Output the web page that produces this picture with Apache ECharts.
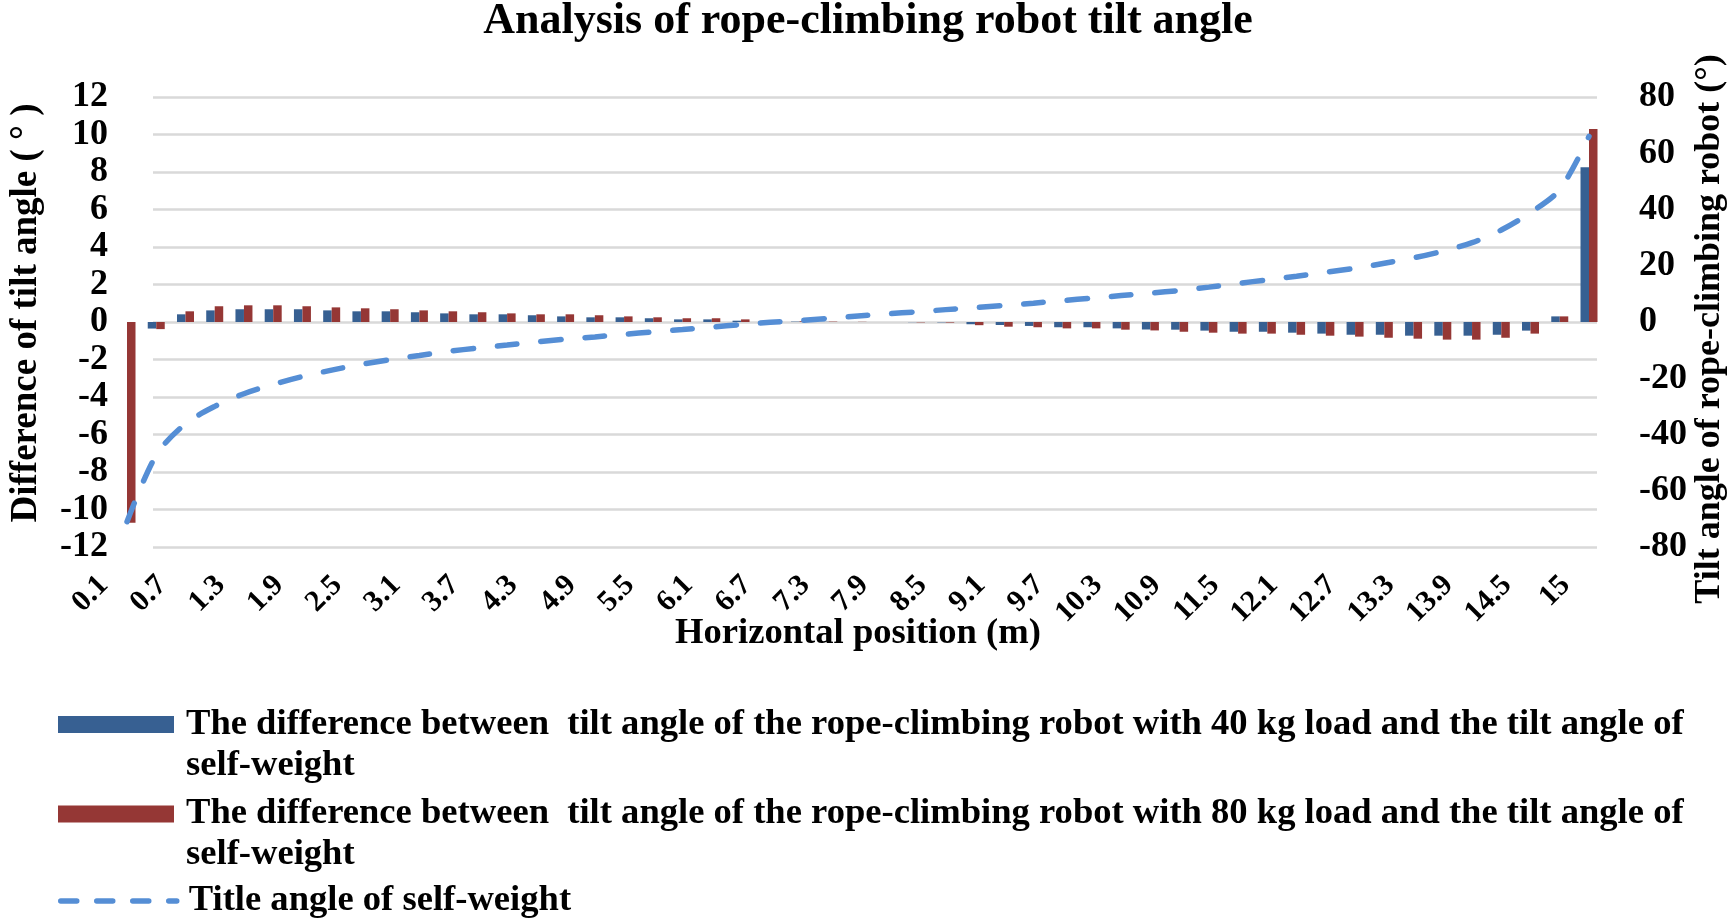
<!DOCTYPE html>
<html>
<head>
<meta charset="utf-8">
<script src="https://cdn.jsdelivr.net/npm/echarts@6/dist/echarts.min.js"></script>
<style>
html,body{margin:0;padding:0;background:#fff;}
#chart{width:1736px;height:919px;}
</style>
</head>
<body>
<div id="chart"></div>
<script>
const categories = ['0.1','0.4','0.7','1','1.3','1.6','1.9','2.2','2.5','2.8','3.1','3.4','3.7','4','4.3','4.6','4.9','5.2','5.5','5.8','6.1','6.4','6.7','7','7.3','7.6','7.9','8.2','8.5','8.8','9.1','9.4','9.7','10','10.3','10.6','10.9','11.2','11.5','11.8','12.1','12.4','12.7','13','13.3','13.6','13.9','14.2','14.5','14.8','15'];

const diff40 = [null,-0.35,0.41,0.62,0.68,0.68,0.68,0.62,0.57,0.57,0.52,0.46,0.41,0.41,0.36,0.30,0.25,0.25,0.20,0.14,0.14,0.07,0.05,0.02,0.01,0,0,-0.01,-0.02,-0.12,-0.16,-0.21,-0.28,-0.28,-0.34,-0.40,-0.41,-0.46,-0.52,-0.52,-0.57,-0.62,-0.68,-0.68,-0.73,-0.73,-0.73,-0.68,-0.46,0.30,8.26];

const diff80 = [-10.7,-0.38,0.57,0.84,0.89,0.89,0.84,0.78,0.73,0.68,0.62,0.57,0.52,0.46,0.41,0.41,0.36,0.30,0.25,0.20,0.20,0.14,0.09,0.04,0.02,0.01,0,-0.02,-0.03,-0.17,-0.25,-0.28,-0.34,-0.34,-0.41,-0.45,-0.52,-0.57,-0.62,-0.62,-0.68,-0.73,-0.78,-0.84,-0.89,-0.94,-0.94,-0.84,-0.62,0.30,10.3];

const selfWeightAngle = [-71,-47.3,-36.2,-30.0,-25.5,-22.2,-19.4,-17.1,-15.1,-13.4,-11.9,-10.4,-9.3,-8.2,-7.1,-6.1,-5.3,-4.4,-3.5,-2.7,-1.8,-0.9,-0.1,0.5,1.3,2.1,2.9,3.6,4.4,5.1,5.9,6.7,7.6,8.5,9.4,10.3,11.2,12.4,13.7,15.0,16.3,17.7,19.1,20.9,22.8,25.2,28.2,32.7,38.9,47.1,66];

const name40 = 'The difference between  tilt angle of the rope-climbing robot with 40 kg load and the tilt angle of self-weight';
const name80 = 'The difference between  tilt angle of the rope-climbing robot with 80 kg load and the tilt angle of self-weight';
const nameLine = 'Title angle of self-weight';

const FONT = "'Liberation Serif', 'Times New Roman', serif";
const txt = (size) => ({fontFamily: FONT, fontWeight: 'bold', fontSize: size, color: '#000'});

const chart = echarts.init(document.getElementById('chart'), null, {renderer: 'canvas'});

// two-line legend text, with an empty first line so the first text line sits beside the icon
const wrapName = (n) => '\n' + n.replace(' of self-weight', ' of\nself-weight');

const LINE_COLOR = '#558ED5';

const option = {
  animation: false,
  backgroundColor: '#fff',
  title: {
    text: 'Analysis of rope-climbing robot tilt angle',
    left: 'center',
    top: 0,
    padding: 0,
    textStyle: txt(44)
  },
  legend: [
    {
      data: [name40], orient: 'vertical', left: 58, top: 663, padding: 0,
      itemWidth: 116, itemHeight: 17, icon: 'rect',
      formatter: wrapName,
      textStyle: Object.assign(txt(36.6), {lineHeight: 41, padding: [0, 0, 0, 7]})
    },
    {
      data: [name80], orient: 'vertical', left: 58, top: 752.5, padding: 0,
      itemWidth: 116, itemHeight: 17, icon: 'rect',
      formatter: wrapName,
      textStyle: Object.assign(txt(36.6), {lineHeight: 41, padding: [0, 0, 0, 7]})
    },
    {
      data: [nameLine], orient: 'vertical', left: 58, top: 880.5, padding: 0,
      itemWidth: 116, itemHeight: 17,
      itemStyle: {opacity: 0},
      lineStyle: {color: LINE_COLOR, width: 5.5, type: [16, 20], cap: 'round'},
      textStyle: Object.assign(txt(36.6), {lineHeight: 41, padding: [0, 0, 0, 7]})
    }
  ],
  grid: [
    {left: 127, right: 133, top: 97, height: 450},
    {left: 127, right: 147, top: 97, height: 450}
  ],
  xAxis: [
    {type: 'category', gridIndex: 0, data: categories, boundaryGap: false, show: false},
    {
      type: 'category', gridIndex: 1, data: categories, boundaryGap: false,
      axisLine: {show: false, onZero: false},
      axisTick: {show: false},
      axisLabel: Object.assign(txt(30), {interval: 1, rotate: 45, verticalAlign: 'bottom', margin: 40, padding: [0, 12, 6, 0]}),
      name: 'Horizontal position (m)',
      nameLocation: 'middle',
      nameGap: 68,
      nameMoveOverlap: false,
      nameTextStyle: txt(36.6)
    }
  ],
  yAxis: [
    {
      type: 'value', gridIndex: 0, position: 'left', min: -12, max: 12, interval: 2,
      axisLine: {show: false}, axisTick: {show: false},
      axisLabel: Object.assign(txt(36), {margin: 45}),
      splitLine: {show: true, lineStyle: {color: '#D9D9D9', width: 2.5}},
      name: 'Difference of tilt angle ( ° )',
      nameLocation: 'middle', nameRotate: 90, nameGap: 100,
      nameMoveOverlap: false,
      nameTextStyle: Object.assign(txt(37), {padding: [0, 0, 8, 18]})
    },
    {
      type: 'value', gridIndex: 0, position: 'right', min: -80, max: 80, interval: 20,
      axisLine: {show: false}, axisTick: {show: false},
      axisLabel: Object.assign(txt(36), {margin: 42}),
      splitLine: {show: false},
      name: 'Tilt angle of rope-climbing robot (°)',
      nameLocation: 'middle', nameRotate: 90, nameGap: 95,
      nameMoveOverlap: false,
      nameTextStyle: Object.assign(txt(36), {padding: [0, 14, 0, 0]})
    },
    {type: 'value', gridIndex: 1, min: -12, max: 12, interval: 2, show: false, splitLine: {show: false}},
    {type: 'value', gridIndex: 1, min: -80, max: 80, interval: 20, show: false, splitLine: {show: false}}
  ],
  series: [
    {
      name: name40, type: 'bar', xAxisIndex: 1, yAxisIndex: 2,
      data: diff40, barWidth: 8.5, barGap: '0%',
      itemStyle: {color: '#376092'}
    },
    {
      name: name80, type: 'bar', xAxisIndex: 1, yAxisIndex: 2,
      data: diff80, barWidth: 8.5, barGap: '0%',
      itemStyle: {color: '#953735'}
    },
    {
      name: nameLine, type: 'line', xAxisIndex: 1, yAxisIndex: 3,
      data: selfWeightAngle, symbol: 'none', smooth: 0.3,
      z: 5,
      lineStyle: {color: LINE_COLOR, width: 5.5, type: [20, 24], cap: 'round'},
      itemStyle: {color: LINE_COLOR}
    }
  ]
};

chart.setOption(option);
</script>
</body>
</html>
